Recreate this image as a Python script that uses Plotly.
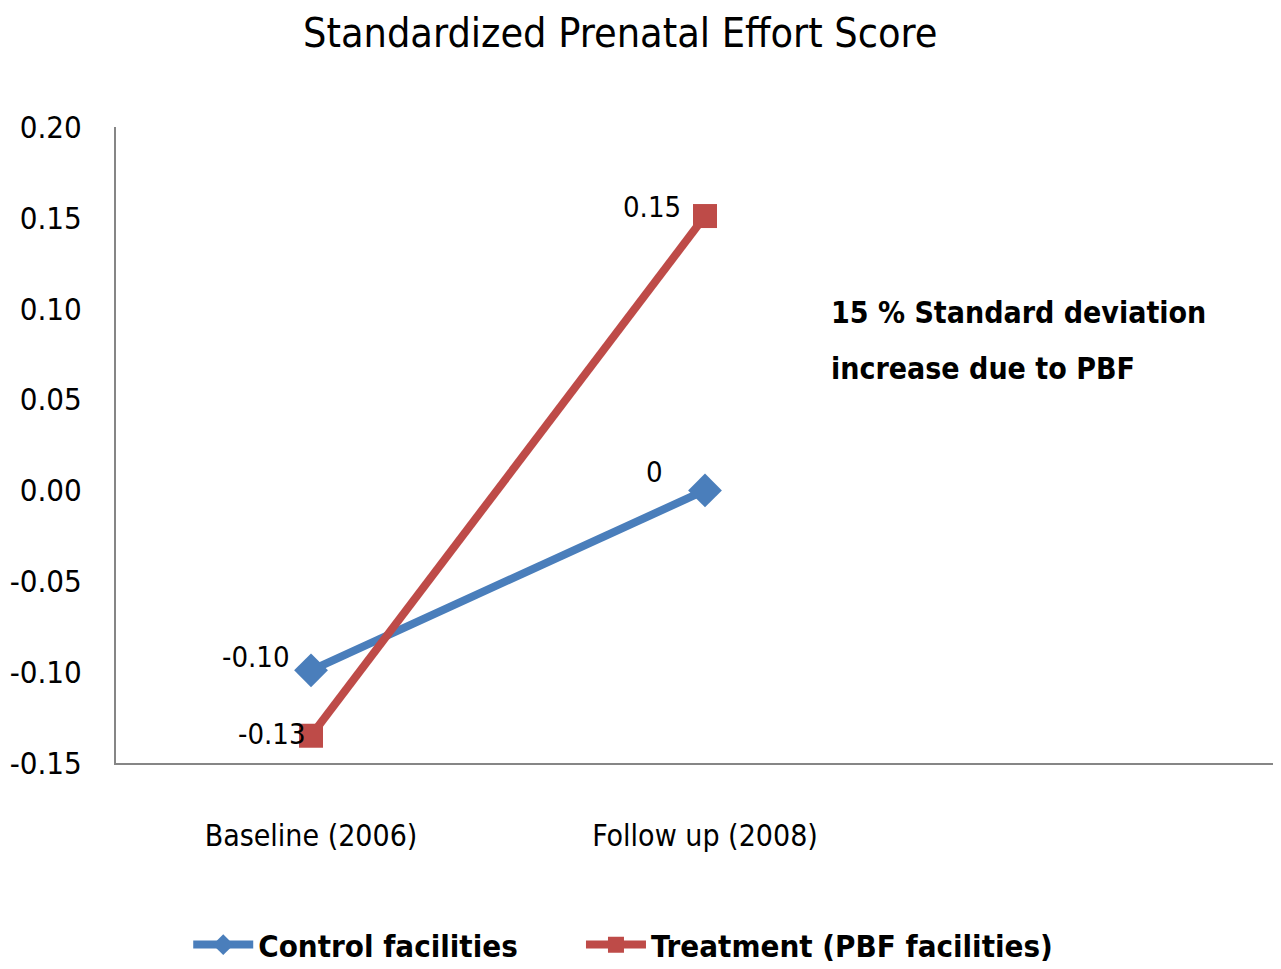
import plotly.graph_objects as go

periods = ["Baseline (2006)", "Follow up (2008)"]
control = [-0.099, 0.0]
treatment = [-0.135, 0.151]
control_labels = ["-0.10", "0"]
treatment_labels = ["-0.13", "0.15"]
yticks = [-0.15, -0.10, -0.05, 0.00, 0.05, 0.10, 0.15, 0.20]
ytick_text = ["-0.15", "-0.10", "-0.05", "0.00", "0.05", "0.10", "0.15", "0.20"]
note_lines = ["15 % Standard deviation", "increase due to PBF"]

blue = "#4A7EBB"
red = "#BE4B48"
xpos = list(range(len(periods)))
font = "DejaVu Sans Condensed, Liberation Sans, sans-serif"

fig = go.Figure()
fig.add_trace(go.Scatter(
    x=xpos, y=control, name="Control facilities" + "\u00a0" * 6, mode="lines+markers",
    line=dict(color=blue, width=8),
    marker=dict(symbol="diamond", size=26, color=blue),
))
fig.add_trace(go.Scatter(
    x=xpos, y=treatment, name="Treatment (PBF facilities)", mode="lines+markers",
    line=dict(color=red, width=8),
    marker=dict(symbol="square", size=24, color=red),
))

# data labels
shifts_c = [(-19, 13), (-40, 18)]
shifts_t = [(-3, 2), (-22, 9)]
for xs, ys, labs, shifts in [(xpos, control, control_labels, shifts_c),
                             (xpos, treatment, treatment_labels, shifts_t)]:
    for x, y, lab, (dx, dy) in zip(xs, ys, labs, shifts):
        fig.add_annotation(x=x, y=y, text=lab, showarrow=False,
                           xanchor="right", yanchor="middle",
                           xshift=dx, yshift=dy,
                           font=dict(family=font, size=29, color="black"))

for line, yy in zip(note_lines, [0.709, 0.621]):
    fig.add_annotation(xref="paper", yref="paper", x=0.612, y=yy,
                       text="<b>" + line + "</b>",
                       showarrow=False, xanchor="left", yanchor="middle", align="left",
                       font=dict(family=font, size=30, color="black"))

fig.update_layout(
    width=1273, height=961,
    paper_bgcolor="white", plot_bgcolor="white",
    margin=dict(l=108, r=0, t=119, b=206),
    title=dict(text="Standardized Prenatal Effort Score", x=0.481, xanchor="center",
               y=0.974, yanchor="middle",
               font=dict(family=font, size=41, color="black")),
    showlegend=True,
    legend=dict(orientation="h", x=0.062, y=0.025, yref="container",
                xanchor="left", yanchor="middle",
                font=dict(family=font, size=31, color="black", weight="bold"),
                itemwidth=60, tracegroupgap=0),
    xaxis=dict(range=[-0.495, 2.462], tickvals=xpos, ticktext=periods,
               showgrid=False, zeroline=False, showline=True, linecolor="#868686",
               linewidth=2, ticks="", ticklabelstandoff=45, automargin=False,
               tickfont=dict(family=font, size=30, color="black")),
    yaxis=dict(range=[-0.15, 0.2], tickvals=yticks, ticktext=ytick_text,
               showgrid=False, zeroline=False, showline=True, automargin=False,
               linecolor="#868686", linewidth=2, ticks="", ticklabelstandoff=26,
               tickfont=dict(family=font, size=31, color="black")),
)

fig.write_html("out.html")
